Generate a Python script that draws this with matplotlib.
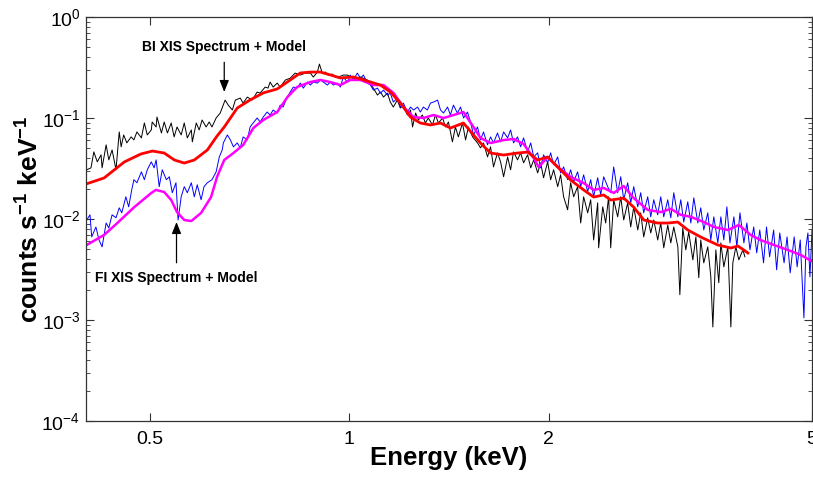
"""
Suzaku XIS spectrum (BI and FI chips) with best-fit models
"""
import numpy as np
import matplotlib
matplotlib.use('Agg')
import matplotlib.pyplot as plt
from matplotlib.ticker import NullLocator, LogLocator

# BI XIS spectrum (black)
bi_energy = [
    0.401, 0.407, 0.411, 0.416, 0.4215, 0.423, 0.429, 0.433, 0.438, 0.444,
    0.449, 0.452, 0.456, 0.461, 0.468, 0.4725, 0.4775, 0.485, 0.490, 0.495,
    0.502, 0.5035, 0.5105, 0.512, 0.520, 0.525, 0.531, 0.538, 0.5435, 0.549,
    0.557, 0.563, 0.569, 0.577, 0.579, 0.587, 0.593, 0.599, 0.6075, 0.614,
    0.620, 0.629, 0.638, 0.649, 0.656, 0.6655, 0.6725, 0.684, 0.691, 0.701,
    0.713, 0.7255, 0.733, 0.746, 0.7535, 0.759, 0.767, 0.778, 0.786, 0.800,
    0.814, 0.828, 0.843, 0.858, 0.873, 0.882, 0.8945, 0.901, 0.910, 0.920,
    0.929, 0.9425, 0.9525, 0.962, 0.979, 0.993, 1.0135, 1.039, 1.065, 1.087,
    1.1025, 1.114, 1.126, 1.1415, 1.153, 1.165, 1.1815, 1.194, 1.2065, 1.2235,
    1.237, 1.2457, 1.259, 1.2715, 1.289, 1.3025, 1.316, 1.335, 1.349, 1.363,
    1.383, 1.397, 1.4115, 1.431, 1.446, 1.461, 1.482, 1.498, 1.513, 1.535,
    1.5615, 1.578, 1.5945, 1.617, 1.634, 1.651, 1.674, 1.692, 1.710, 1.734,
    1.752, 1.770, 1.795, 1.814, 1.833, 1.859, 1.879, 1.899, 1.925, 1.945,
    1.965, 1.993, 2.014, 2.035, 2.064, 2.085, 2.107, 2.1365, 2.159, 2.182,
    2.212, 2.236, 2.259, 2.291, 2.315, 2.339, 2.372, 2.380, 2.414, 2.439,
    2.464, 2.482, 2.508, 2.543, 2.570, 2.597, 2.633, 2.661, 2.689, 2.727,
    2.755, 2.784, 2.823, 2.853, 2.883, 2.923, 2.954, 2.985, 3.027, 3.059,
    3.091, 3.135, 3.157, 3.189, 3.223, 3.256, 3.303, 3.338, 3.372, 3.395,
    3.431, 3.479, 3.516, 3.541, 3.578, 3.615, 3.641, 3.679, 3.731, 3.770,
    3.796, 3.836, 3.876, 3.931, 3.959,
]
bi_counts = [
    0.0307, 0.0321, 0.0462, 0.0368, 0.0432, 0.0321, 0.0542, 0.0385, 0.0483, 0.0307,
    0.0728, 0.0518, 0.0680, 0.0567, 0.0650, 0.0607, 0.0728, 0.0635, 0.0893, 0.0680,
    0.0762, 0.0913, 0.0815, 0.1023, 0.0711, 0.0913, 0.0711, 0.0893, 0.0650, 0.0815,
    0.0680, 0.0893, 0.0635, 0.0762, 0.0580, 0.0893, 0.0762, 0.0956, 0.0815, 0.0913,
    0.0815, 0.100, 0.112, 0.1505, 0.1343, 0.120, 0.1505, 0.1575, 0.1406, 0.1611,
    0.1505, 0.1805, 0.1764, 0.2024, 0.1977, 0.2268, 0.2024, 0.2217, 0.2024, 0.2373,
    0.2484, 0.2785, 0.2661, 0.2785, 0.2785, 0.2543, 0.2849, 0.3418, 0.2785, 0.2849,
    0.2661, 0.2721, 0.2543, 0.2543, 0.2661, 0.2661, 0.2484, 0.2543, 0.2373, 0.1977,
    0.1686, 0.1805, 0.1611, 0.1764, 0.1438, 0.1284, 0.1505, 0.1255, 0.1343, 0.1071,
    0.120, 0.0815, 0.112, 0.0956, 0.1071, 0.0893, 0.100, 0.0853, 0.1071, 0.0893,
    0.100, 0.0815, 0.0913, 0.0580, 0.0815, 0.0650, 0.0893, 0.0607, 0.0815, 0.0650,
    0.0567, 0.0506, 0.0567, 0.0412, 0.0518, 0.0328, 0.0452, 0.0368, 0.0262, 0.0412,
    0.0307, 0.0462, 0.0385, 0.0452, 0.0360, 0.0432, 0.0321, 0.0385, 0.0286, 0.0360,
    0.0256, 0.0368, 0.0245, 0.0307, 0.0209, 0.0274, 0.0166, 0.01233, 0.02285, 0.0166,
    0.0209, 0.00913, 0.0166, 0.01151, 0.0155, 0.0062, 0.01446, 0.00518, 0.0132, 0.00913,
    0.0166, 0.00518, 0.0155, 0.01051, 0.0166, 0.00978, 0.01446, 0.00834, 0.0132, 0.00779,
    0.01151, 0.00665, 0.01028, 0.00728, 0.00978, 0.0062, 0.00913, 0.00518, 0.00872, 0.0058,
    0.00834, 0.0053, 0.00178, 0.00815, 0.00495, 0.00744, 0.00394, 0.00665, 0.00262, 0.0062,
    0.00368, 0.0053, 0.00268, 0.000853, 0.00495, 0.00234, 0.0058, 0.00336, 0.0053, 0.000853,
    0.00368, 0.0053, 0.00394, 0.00495, 0.00422,
]

# FI XIS spectrum (blue)
fi_energy = [
    0.401, 0.4056, 0.408, 0.414, 0.4185, 0.423, 0.429, 0.433, 0.438, 0.444,
    0.449, 0.453, 0.4595, 0.464, 0.469, 0.4725, 0.4775, 0.485, 0.490, 0.495,
    0.502, 0.507, 0.5105, 0.516, 0.5215, 0.529, 0.5345, 0.540, 0.547, 0.551,
    0.557, 0.563, 0.569, 0.577, 0.583, 0.589, 0.597, 0.603, 0.610, 0.620,
    0.629, 0.636, 0.6425, 0.645, 0.654, 0.661, 0.668, 0.677, 0.684, 0.691,
    0.701, 0.708, 0.7155, 0.7255, 0.733, 0.741, 0.751, 0.759, 0.767, 0.778,
    0.786, 0.794, 0.8055, 0.814, 0.8225, 0.834, 0.843, 0.852, 0.864, 0.873,
    0.882, 0.8945, 0.904, 0.9135, 0.926, 0.936, 0.946, 0.959, 0.969, 0.979,
    0.993, 1.003, 1.0135, 1.028, 1.039, 1.050, 1.065, 1.076, 1.087, 1.1025,
    1.114, 1.126, 1.1415, 1.153, 1.165, 1.1815, 1.194, 1.2065, 1.2235, 1.237,
    1.250, 1.2675, 1.280, 1.2935, 1.3115, 1.326, 1.340, 1.359, 1.373, 1.3875,
    1.407, 1.421, 1.436, 1.456, 1.472, 1.4875, 1.508, 1.524, 1.540, 1.5615,
    1.578, 1.5945, 1.617, 1.634, 1.651, 1.674, 1.692, 1.710, 1.734, 1.752,
    1.770, 1.795, 1.814, 1.833, 1.859, 1.879, 1.899, 1.925, 1.945, 1.965,
    1.993, 2.014, 2.035, 2.064, 2.085, 2.107, 2.1365, 2.159, 2.182, 2.212,
    2.236, 2.259, 2.291, 2.315, 2.339, 2.372, 2.397, 2.422, 2.456, 2.482,
    2.508, 2.543, 2.570, 2.597, 2.633, 2.661, 2.689, 2.727, 2.755, 2.784,
    2.823, 2.853, 2.883, 2.923, 2.954, 2.985, 3.027, 3.059, 3.091, 3.135,
    3.167, 3.200, 3.245, 3.280, 3.314, 3.361, 3.395, 3.431, 3.479, 3.516,
    3.553, 3.603, 3.641, 3.679, 3.718, 3.758, 3.810, 3.849, 3.891, 3.945,
    3.986, 4.029, 4.082, 4.125, 4.169, 4.224, 4.268, 4.314, 4.375, 4.421,
    4.469, 4.537, 4.584, 4.634, 4.699, 4.748, 4.799, 4.861, 4.895, 4.929,
    4.964, 5.0,
]
fi_counts = [
    0.00978, 0.0110, 0.00665, 0.00834, 0.0062, 0.0053, 0.00913, 0.00815, 0.0110, 0.01028,
    0.0129, 0.01151, 0.0166, 0.0132, 0.0195, 0.0245, 0.02285, 0.0293, 0.0245, 0.0307,
    0.0368, 0.0321, 0.0385, 0.0209, 0.0307, 0.0245, 0.0262, 0.0182, 0.02285, 0.00978,
    0.0166, 0.0209, 0.0182, 0.02285, 0.0166, 0.0218, 0.0155, 0.0209, 0.02285, 0.0245,
    0.0293, 0.0412, 0.0483, 0.0567, 0.0680, 0.0607, 0.0518, 0.0567, 0.0506, 0.0650,
    0.0607, 0.0815, 0.0893, 0.100, 0.0913, 0.1023, 0.1146, 0.1071, 0.120, 0.112,
    0.1343, 0.1284, 0.1611, 0.1805, 0.2024, 0.1977, 0.2217, 0.1977, 0.2268, 0.2119,
    0.2268, 0.2217, 0.2373, 0.2268, 0.2119, 0.2268, 0.2119, 0.2217, 0.2024, 0.2543,
    0.2268, 0.2661, 0.2373, 0.2785, 0.2484, 0.2661, 0.2217, 0.2119, 0.1889, 0.1977,
    0.1764, 0.1889, 0.1686, 0.1764, 0.1438, 0.1575, 0.1284, 0.1406, 0.1146, 0.1284,
    0.120, 0.1284, 0.1146, 0.1284, 0.120, 0.1406, 0.1438, 0.1505, 0.120, 0.112,
    0.1284, 0.1071, 0.1343, 0.112, 0.1284, 0.100, 0.1146, 0.0913, 0.0680, 0.0815,
    0.0607, 0.0728, 0.0542, 0.0650, 0.0567, 0.0711, 0.0580, 0.0728, 0.0635, 0.0762,
    0.0567, 0.0650, 0.0518, 0.0635, 0.0462, 0.0567, 0.0412, 0.0452, 0.0321, 0.0432,
    0.0360, 0.0452, 0.0344, 0.0412, 0.0286, 0.0328, 0.0245, 0.0307, 0.0234, 0.0293,
    0.0209, 0.0274, 0.0186, 0.0245, 0.0166, 0.0256, 0.0174, 0.0262, 0.0209, 0.0182,
    0.0328, 0.0182, 0.0262, 0.0155, 0.02285, 0.01446, 0.0209, 0.0132, 0.0182, 0.01151,
    0.0166, 0.01051, 0.0155, 0.0110, 0.0166, 0.01051, 0.0155, 0.01028, 0.0182, 0.01051,
    0.0155, 0.00934, 0.0148, 0.00913, 0.0162, 0.00913, 0.0129, 0.00779, 0.01151, 0.0062,
    0.01051, 0.0058, 0.01051, 0.0062, 0.0132, 0.0058, 0.01051, 0.0053, 0.01151, 0.0058,
    0.00913, 0.00495, 0.00834, 0.00462, 0.00779, 0.00368, 0.00834, 0.00422, 0.00779, 0.00314,
    0.00728, 0.00368, 0.00665, 0.00293, 0.00665, 0.00336, 0.0062, 0.00105, 0.0053, 0.00728,
    0.00268, 0.00779,
]

# BI model (red)
bi_model_energy = [
    0.400, 0.426, 0.457, 0.484, 0.504, 0.525, 0.544, 0.563, 0.583, 0.610,
    0.631, 0.647, 0.677, 0.708, 0.741, 0.778, 0.814, 0.843, 0.873, 0.904,
    0.936, 0.969, 1.014, 1.065, 1.114, 1.153, 1.194, 1.237, 1.280, 1.326,
    1.373, 1.421, 1.487, 1.540, 1.578, 1.634, 1.710, 1.795, 1.859, 1.925,
    1.993, 2.064, 2.159, 2.259, 2.339, 2.422, 2.482, 2.597, 2.689, 2.785,
    2.922, 3.027, 3.134, 3.246, 3.395, 3.603, 3.770, 3.863, 3.945, 4.000,
]
bi_model_counts = [
    0.0222, 0.0255, 0.0367, 0.0440, 0.0471, 0.0450, 0.0384, 0.0358, 0.0384, 0.0482,
    0.0663, 0.0814, 0.1256, 0.151, 0.177, 0.194, 0.238, 0.279, 0.285, 0.285,
    0.267, 0.249, 0.255, 0.232, 0.212, 0.181, 0.141, 0.102, 0.0892, 0.0853,
    0.0892, 0.0796, 0.0892, 0.0679, 0.0565, 0.0450, 0.0430, 0.0450, 0.0460, 0.0384,
    0.0411, 0.0327, 0.0243, 0.0194, 0.0165, 0.0173, 0.0154, 0.0161, 0.0131, 0.00977,
    0.00912, 0.00912, 0.00933, 0.00778, 0.00663, 0.00553, 0.00516, 0.00540, 0.00493, 0.00461,
]

# FI model (magenta)
fi_model_energy = [
    0.401, 0.426, 0.446, 0.473, 0.502, 0.510, 0.525, 0.538, 0.549, 0.563,
    0.577, 0.597, 0.618, 0.631, 0.647, 0.668, 0.691, 0.716, 0.741, 0.778,
    0.806, 0.834, 0.873, 0.904, 0.936, 0.969, 1.003, 1.039, 1.087, 1.126,
    1.166, 1.207, 1.250, 1.294, 1.340, 1.388, 1.437, 1.487, 1.540, 1.578,
    1.634, 1.710, 1.770, 1.833, 1.898, 1.932, 1.993, 2.064, 2.159, 2.259,
    2.339, 2.422, 2.508, 2.597, 2.689, 2.824, 2.954, 3.059, 3.167, 3.280,
    3.431, 3.553, 3.731, 3.876, 4.04, 4.18, 4.38, 4.60, 4.81, 5.02,
]
fi_model_counts = [
    0.00553, 0.00695, 0.00912, 0.0131, 0.0181, 0.0194, 0.0185, 0.0154, 0.0117, 0.00977,
    0.00955, 0.0115, 0.0165, 0.0261, 0.0384, 0.0450, 0.0540, 0.0796, 0.0955, 0.1146,
    0.161, 0.203, 0.227, 0.238, 0.227, 0.212, 0.238, 0.238, 0.212, 0.212,
    0.177, 0.1285, 0.102, 0.100, 0.107, 0.100, 0.107, 0.1146, 0.0814, 0.0634,
    0.0565, 0.0605, 0.0620, 0.0553, 0.0402, 0.0327, 0.0411, 0.0327, 0.0261, 0.0227,
    0.0194, 0.0203, 0.0181, 0.0212, 0.0161, 0.0123, 0.0117, 0.0126, 0.0110, 0.0105,
    0.00933, 0.00834, 0.00778, 0.00873, 0.00695, 0.00619, 0.00553, 0.00493, 0.00440, 0.00375,
]

x_ticks = [0.5, 1, 2, 5]
x_tick_labels = ['0.5', '1', '2', '5']

# fonts: Helvetica-like everywhere, math included
plt.rcParams['font.family'] = ['Liberation Sans', 'DejaVu Sans']
plt.rcParams['mathtext.fontset'] = 'custom'
plt.rcParams['mathtext.rm'] = 'Liberation Sans'
plt.rcParams['mathtext.it'] = 'Liberation Sans:italic'
plt.rcParams['mathtext.bf'] = 'Liberation Sans:bold'

fig = plt.figure(figsize=(8.13, 4.79), dpi=100)
ax = fig.add_axes([0.1058, 0.1211, 0.8930, 0.8434])

# spectra first, models on top
ax.plot(bi_energy, bi_counts, color='black', lw=0.7)
ax.plot(fi_energy, fi_counts, color='#0000ff', lw=0.7)
ax.plot(fi_model_energy, fi_model_counts, color='#ff00ff', lw=1.8)
ax.plot(bi_model_energy, bi_model_counts, color='#ff0000', lw=2.0)

ax.set_xscale('log')
ax.set_yscale('log')
ax.set_xlim(0.4, 5.0)
ax.set_ylim(1e-4, 1)

ax.set_xticks(x_ticks)
ax.set_xticklabels(x_tick_labels)
ax.xaxis.set_minor_locator(NullLocator())
ax.yaxis.set_major_locator(LogLocator(base=10, numticks=10))
ax.yaxis.set_minor_locator(LogLocator(base=10, subs=np.arange(2, 10), numticks=10))

ax.tick_params(which='both', direction='in', top=True, right=True, color='#333333')
ax.tick_params(which='major', length=6, width=0.8, labelsize=14, pad=4)
ax.tick_params(which='minor', length=3, width=0.6)
ax.tick_params(axis='x', which='major', pad=7)
for sp in ax.spines.values():
    sp.set_linewidth(0.9)
    sp.set_color('#333333')

ax.set_xlabel('Energy (keV)', fontsize=18.5, fontweight='bold')
ax.xaxis.set_label_coords(0.5, -0.063)
ax.set_ylabel(r'counts s$^{\mathbf{-1}}$ keV$^{\mathbf{-1}}$', fontsize=19, fontweight='bold')
ax.yaxis.set_label_coords(-0.058, 0.5)

# labels with arrows
arrow_style = dict(arrowstyle='-|>,head_length=0.7,head_width=0.28', color='black',
                   lw=0.9, shrinkA=4, shrinkB=0)
ax.annotate('BI XIS Spectrum + Model', xy=(0.647, 0.181), xytext=(0.647, 0.505),
            ha='center', va='center', fontsize=10, fontweight='bold',
            arrowprops=arrow_style)
ax.annotate('FI XIS Spectrum + Model', xy=(0.548, 0.00933), xytext=(0.548, 0.0026),
            ha='center', va='center', fontsize=10, fontweight='bold',
            arrowprops=arrow_style)

plt.savefig('out.png', dpi=100)
plt.close()
